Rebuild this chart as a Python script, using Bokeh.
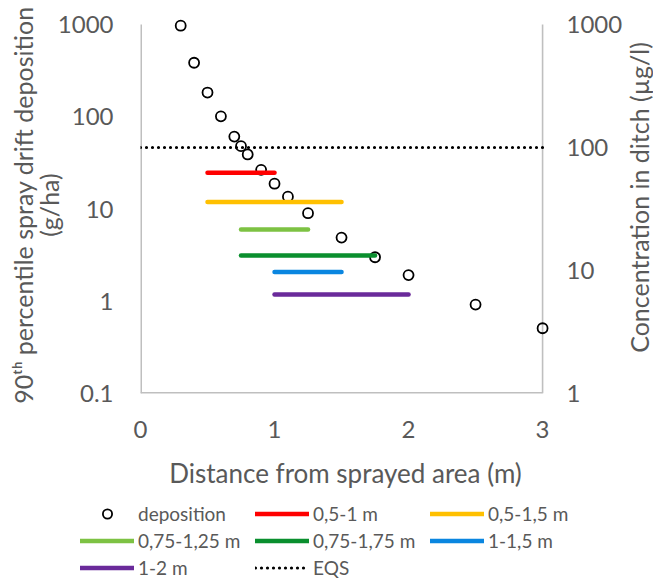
import math
from bokeh.plotting import figure
from bokeh.layouts import column, row
from bokeh.models import (Range1d, LogScale, LogAxis, FixedTicker, CustomJSTickFormatter,
                          Legend, LegendItem)
from bokeh.embed import file_html
from bokeh.resources import INLINE

# ---------------- data ----------------
distance = [0.3, 0.4, 0.5, 0.6, 0.7, 0.75, 0.8, 0.9, 1.0, 1.1, 1.25, 1.5, 1.75, 2.0, 2.5, 3.0]
deposition = [970, 385, 183, 101, 61, 48, 39, 26.6, 18.8, 13.6, 9.0, 4.9, 3.0, 1.92, 0.92, 0.51]

seg_labels = ["0,5-1 m", "0,5-1,5 m", "0,75-1,25 m", "0,75-1,75 m", "1-1,5 m", "1-2 m"]
seg_start = [0.5, 0.5, 0.75, 0.75, 1.0, 1.0]
seg_end = [1.0, 1.5, 1.25, 1.75, 1.5, 2.0]
seg_level = [24.7, 11.9, 6.0, 3.13, 2.07, 1.18]
seg_colors = ["#FF0000", "#FFC000", "#7DC243", "#0A8F2E", "#0A86E0", "#6A2A9A"]

eqs_conc = 100  # µg/l, right axis
x_limits = [0, 3]
x_ticks = [0, 1, 2, 3]
y_limits_left = [0.1, 1000]
y_limits_right = [1, 1000]
y_ticks_left = [0.1, 1, 10, 100, 1000]
y_ticks_right = [1, 10, 100, 1000]

x_title = "Distance from sprayed area (m)"
left_title = "90\u1d57\u02b0 percentile spray drift deposition\n(g/ha)"
right_title = "Concentration in ditch (\u00b5g/l)"

# ---------------- layout / style ----------------
FONT = "Lato"
GREY = "#595959"
AXIS = "#BFBFBF"
FRAME_W = 406   # px between x=0 and x=3
FRAME_H = 369   # px between bottom and top of the log axes
PAD = 8         # extra room (px) at top and right so edge markers are not clipped
MAIN_W = 625
SIDE_W = 653 - MAIN_W
MAIN_H = 500
LEG_H = 579 - MAIN_H


def no_align(fig):
    if hasattr(fig, "frame_align"):
        fig.frame_align = False


x_end = x_limits[1] + PAD * (x_limits[1] - x_limits[0]) / FRAME_W
dl = math.log10(y_limits_left[1]) - math.log10(y_limits_left[0])
dr = math.log10(y_limits_right[1]) - math.log10(y_limits_right[0])
yl_end = 10 ** (math.log10(y_limits_left[1]) + PAD * dl / FRAME_H)
yr_end = 10 ** (math.log10(y_limits_right[1]) + PAD * dr / FRAME_H)

p = figure(width=MAIN_W, height=MAIN_H, output_backend="svg", toolbar_location=None,
           x_range=Range1d(x_limits[0], x_end), y_range=Range1d(y_limits_left[0], yl_end),
           y_axis_type="log",
           min_border_left=140, min_border_right=MAIN_W - 140 - FRAME_W - PAD,
           min_border_top=24 - PAD,
           min_border_bottom=MAIN_H - (24 - PAD) - FRAME_H - PAD)
no_align(p)
p.extra_y_ranges = {"conc": Range1d(y_limits_right[0], yr_end)}
p.extra_y_scales = {"conc": LogScale()}

p.outline_line_color = None
p.xgrid.visible = False
p.ygrid.visible = False
p.background_fill_color = "white"
p.border_fill_color = "white"

fmt = CustomJSTickFormatter(code="return tick < 1 ? tick.toFixed(1) : tick.toFixed(0);")


def style_axis(ax):
    ax.axis_line_color = None
    ax.major_tick_line_color = None
    ax.minor_tick_line_color = None
    ax.major_tick_out = 0
    ax.major_tick_in = 0
    ax.minor_tick_out = 0
    ax.minor_tick_in = 0
    ax.major_label_text_font = FONT
    ax.major_label_text_font_size = "24px"
    ax.major_label_text_color = GREY
    ax.axis_label_text_font = FONT
    ax.axis_label_text_font_size = "26px"
    ax.axis_label_text_font_style = "normal"
    ax.axis_label_text_color = GREY
    ax.axis_label_text_line_height = 1.0


# left axis
ly = p.yaxis[0]
ly.ticker = FixedTicker(ticks=y_ticks_left)
ly.formatter = fmt
style_axis(ly)
ly.major_label_standoff = 27
ly.axis_label = left_title
ly.axis_label_text_font_size = "25px"
ly.axis_label_text_line_height = 0.85
ly.axis_label_standoff = -9

# right axis (numbers only; its title sits in the narrow strip to the right)
ry = LogAxis(y_range_name="conc", ticker=FixedTicker(ticks=y_ticks_right), formatter=fmt)
style_axis(ry)
ry.major_label_standoff = 24 - PAD
p.add_layout(ry, "right")

# x axis
bx = p.xaxis[0]
bx.ticker = FixedTicker(ticks=x_ticks)
style_axis(bx)
bx.major_label_standoff = 27
bx.axis_label = x_title
bx.axis_label_standoff = 16

# plot-area border lines (left, right, bottom)
p.segment(x0=[x_limits[0], x_limits[1], x_limits[0]],
          y0=[y_limits_left[0], y_limits_left[0], y_limits_left[0]],
          x1=[x_limits[0], x_limits[1], x_limits[1]],
          y1=[y_limits_left[1], y_limits_left[1], y_limits_left[0]],
          line_color=AXIS, line_width=[3, 1.6, 3])

# data glyphs
p.scatter(distance, deposition, size=10, marker="circle", line_color="black",
          line_width=1.8, fill_color=None)
for a, b, lev, col in zip(seg_start, seg_end, seg_level, seg_colors):
    p.segment(x0=[a], y0=[lev], x1=[b], y1=[lev], line_color=col, line_width=4.5,
              line_cap="round")
p.line(x=x_limits, y=[eqs_conc, eqs_conc], y_range_name="conc", line_color="black",
       line_width=3.2, line_dash="0 6", line_cap="round")

# ---------------- right title strip (reads bottom-to-top, like a left axis title) ----
r = figure(width=SIDE_W, height=MAIN_H, output_backend="svg", toolbar_location=None,
           x_axis_location=None, y_axis_location="left",
           min_border_left=0, min_border_right=0, min_border_top=16, min_border_bottom=122,
           x_range=Range1d(0, 1), y_range=Range1d(0, 1))
no_align(r)
r.outline_line_color = None
r.grid.visible = False
r.background_fill_color = "white"
r.border_fill_color = "white"
rax = r.yaxis[0]
rax.ticker = FixedTicker(ticks=[])
style_axis(rax)
rax.axis_label_text_font_size = "25px"
rax.major_label_standoff = 0
rax.axis_label = right_title
rax.axis_label_standoff = 0

# ---------------- legend strip (same styles as the plotted marks) ----------------
q = figure(width=653, height=LEG_H, output_backend="svg", toolbar_location=None,
           x_axis_location=None, y_axis_location=None, min_border=0,
           x_range=Range1d(0, 1), y_range=Range1d(0, 1))
no_align(q)
q.outline_line_color = None
q.grid.visible = False
q.background_fill_color = "white"
q.border_fill_color = "white"

# legend-only renderers: one point each, placed outside this strip's visible range
px, py = [x_limits[1]], [y_limits_left[1]]
items = [LegendItem(label="deposition",
                    renderers=[q.scatter(x=px, y=py, size=10, marker="circle",
                                         line_color="black", line_width=1.8,
                                         fill_color=None)])]
for lab, col in zip(seg_labels, seg_colors):
    rr = q.segment(x0=px, y0=py, x1=px, y1=py, line_color=col, line_width=4.5,
                   line_cap="round")
    items.append(LegendItem(label=lab, renderers=[rr]))
items.append(LegendItem(label="EQS",
                        renderers=[q.line(x=px * 2, y=py * 2, line_color="black",
                                          line_width=3.2, line_dash="0 6",
                                          line_cap="round")]))

legend = Legend(items=items, ncols=3, orientation="horizontal", location=(80, 0),
                background_fill_alpha=0, border_line_color=None,
                padding=0, margin=0, spacing=4,
                glyph_width=54, glyph_height=23, label_height=23, label_width=113,
                label_standoff=4, label_text_font=FONT, label_text_font_size="19px",
                label_text_color=GREY)
q.add_layout(legend)

layout = column(row(p, r, spacing=0), q, spacing=0)
open("out.html", "w").write(file_html(layout, INLINE))
